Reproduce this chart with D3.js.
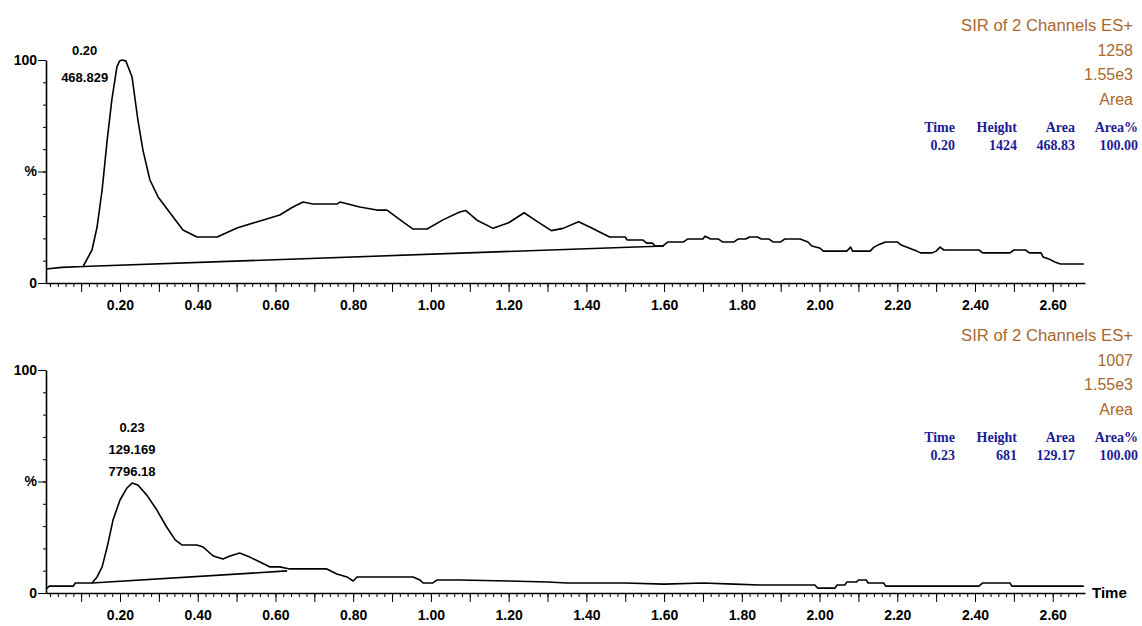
<!DOCTYPE html>
<html>
<head>
<meta charset="utf-8">
<script src="https://cdn.jsdelivr.net/npm/d3@7"></script>
<style>
  body { margin: 0; background: #fff; }
  svg { display: block; }
  .tick text { font-family: "Liberation Sans", Arial, sans-serif; font-weight: bold; }
</style>
</head>
<body>
<div id="chart"></div>
<script>
// chromatogram 1 (top) - time in min, intensity in %
const topTime = [0.01, 0.05, 0.105, 0.128, 0.141, 0.154, 0.167, 0.179, 0.192, 0.199, 0.205, 0.215, 0.231, 0.246, 0.259, 0.277, 0.298, 0.329, 0.362, 0.398, 0.45, 0.501, 0.552, 0.611, 0.645, 0.671, 0.696, 0.758, 0.766, 0.817, 0.861, 0.887, 0.928, 0.954, 0.99, 1.031, 1.074, 1.09, 1.12, 1.16, 1.20, 1.24, 1.27, 1.31, 1.34, 1.38, 1.41, 1.434, 1.46, 1.50, 1.505, 1.545, 1.555, 1.57, 1.577, 1.597, 1.61, 1.65, 1.66, 1.70, 1.705, 1.72, 1.74, 1.75, 1.78, 1.79, 1.81, 1.82, 1.84, 1.85, 1.87, 1.88, 1.90, 1.91, 1.95, 1.97, 1.98, 2.0, 2.01, 2.07, 2.08, 2.085, 2.13, 2.14, 2.15, 2.17, 2.2, 2.21, 2.23, 2.25, 2.26, 2.29, 2.30, 2.31, 2.32, 2.41, 2.42, 2.49, 2.50, 2.53, 2.54, 2.57, 2.575, 2.59, 2.605, 2.62, 2.68];
const topSignal = [6.3, 7.0, 7.4, 14.8, 25.1, 41.7, 64.1, 82.1, 96.9, 99.6, 100, 99.6, 92.4, 73.1, 59.6, 46.2, 38.6, 31.4, 23.8, 20.6, 20.6, 24.7, 27.4, 30.5, 34.1, 36.3, 35.4, 35.4, 36.3, 34.1, 32.7, 32.7, 27.4, 24.2, 24.2, 28.3, 31.8, 32.5, 28.0, 24.5, 27.0, 31.5, 28.0, 23.5, 24.5, 27.5, 25.0, 22.9, 20.6, 20.6, 19.3, 19.3, 17.9, 17.9, 16.6, 16.6, 18.4, 18.4, 19.7, 19.7, 21.0, 19.7, 19.7, 18.4, 18.4, 19.7, 19.7, 20.6, 20.6, 19.7, 19.7, 18.4, 18.4, 19.7, 19.7, 18.4, 16.6, 15.7, 14.3, 14.3, 16.1, 14.3, 14.3, 16.1, 17.0, 18.4, 18.4, 17.0, 15.7, 14.3, 13.5, 13.5, 14.3, 16.1, 14.8, 14.8, 13.5, 13.5, 14.8, 14.8, 13.5, 13.5, 11.7, 10.8, 9.4, 8.5, 8.5];
const topBaseTime = [0.105, 1.60];
const topBaseSignal = [7.4, 16.6];

// chromatogram 2 (bottom)
const botTime = [0.01, 0.018, 0.08, 0.085, 0.128, 0.141, 0.154, 0.167, 0.182, 0.20, 0.218, 0.231, 0.246, 0.269, 0.295, 0.32, 0.342, 0.36, 0.398, 0.414, 0.44, 0.465, 0.483, 0.508, 0.534, 0.56, 0.586, 0.611, 0.637, 0.732, 0.758, 0.784, 0.80, 0.81, 0.954, 0.972, 0.98, 1.005, 1.015, 1.074, 1.2, 1.3, 1.35, 1.5, 1.6, 1.7, 1.78, 1.846, 1.988, 1.995, 2.04, 2.045, 2.065, 2.07, 2.095, 2.10, 2.12, 2.125, 2.165, 2.17, 2.41, 2.42, 2.49, 2.495, 2.68];
const botSignal = [1.8, 3.1, 3.1, 4.5, 4.5, 7.2, 11.7, 20.6, 32.7, 41.7, 47.1, 49.3, 48.4, 43.9, 37.2, 29.6, 23.8, 21.5, 21.5, 20.6, 16.6, 15.2, 16.6, 17.9, 16.1, 13.9, 11.7, 11.7, 10.8, 10.8, 8.5, 7.2, 5.4, 7.2, 7.2, 5.8, 4.5, 4.5, 5.8, 5.8, 5.4, 4.9, 4.5, 4.5, 4.0, 4.5, 4.0, 3.6, 3.6, 2.2, 2.2, 3.6, 3.6, 4.9, 4.9, 5.8, 5.8, 4.5, 4.5, 3.1, 3.1, 4.5, 4.5, 3.1, 3.1];
const botBaseTime = [0.128, 0.63];
const botBaseSignal = [4.5, 9.9];

// axis ticks
const xLabelTicks = [0.2, 0.4, 0.6, 0.8, 1.0, 1.2, 1.4, 1.6, 1.8, 2.0, 2.2, 2.4, 2.6];
const yLabelTicks = [0, 50, 100];
const yLabelText = ["0", "%", "100"];

// header texts and peak tables
const headerLines = [
  ["SIR of 2 Channels ES+", "1258", "1.55e3", "Area"],
  ["SIR of 2 Channels ES+", "1007", "1.55e3", "Area"]
];
const tableHeader = ["Time", "Height", "Area", "Area%"];
const tableRows = [
  ["0.20", "1424", "468.83", "100.00"],
  ["0.23", "681", "129.17", "100.00"]
];
const peakLabels = [
  { t: 0.109, lines: ["0.20", "468.829"] },
  { t: 0.231, lines: ["0.23", "129.169", "7796.18"] }
];

const width = 1142, height = 626;
const svg = d3.select("#chart").append("svg")
  .attr("width", width)
  .attr("height", height);

const x = d3.scaleLinear().domain([0.0096, 2.683]).range([46, 1085]);

const panels = [
  { top: 60, bottom: 283, time: topTime, sig: topSignal, bt: topBaseTime, bs: topBaseSignal },
  { top: 370, bottom: 593, time: botTime, sig: botSignal, bt: botBaseTime, bs: botBaseSignal }
];

const minorX = d3.range(1, 134).map(i => i / 50);
const majorX = d3.range(1, 27).map(i => i / 10);

panels.forEach((p, k) => {
  const y = d3.scaleLinear().domain([0, 100]).range([p.bottom, p.top]);
  const g = svg.append("g");

  // x axis: minor ticks every 0.02, longer ticks every 0.1, labels every 0.2
  g.append("g")
    .attr("transform", `translate(0,${p.bottom})`)
    .call(d3.axisBottom(x).tickValues(minorX).tickSize(4).tickSizeOuter(0).tickFormat(""))
    .call(a => a.select(".domain").attr("stroke-width", 1.6));
  g.append("g")
    .attr("transform", `translate(0,${p.bottom})`)
    .call(d3.axisBottom(x).tickValues(majorX).tickSize(9).tickSizeOuter(0).tickPadding(8)
      .tickFormat(d => xLabelTicks.some(v => Math.abs(v - d) < 1e-6) ? d.toFixed(2) : ""))
    .call(a => a.select(".domain").remove())
    .call(a => a.selectAll("text").style("font-size", "14px").attr("fill", "#000"));

  // y axis
  g.append("g")
    .attr("transform", `translate(${x.range()[0]},0)`)
    .call(d3.axisLeft(y).tickValues(d3.range(0, 101, 10)).tickSize(3).tickSizeOuter(0).tickFormat(""))
    .call(a => a.select(".domain").attr("stroke-width", 1.6));
  g.append("g")
    .attr("transform", `translate(${x.range()[0]},0)`)
    .call(d3.axisLeft(y).tickValues(yLabelTicks).tickSize(8).tickSizeOuter(0).tickPadding(1)
      .tickFormat((d, i) => yLabelText[i]))
    .call(a => a.select(".domain").remove())
    .call(a => a.selectAll("text").style("font-size", "14px").attr("fill", "#000"));

  const line = d3.line().x(d => x(d[0])).y(d => y(d[1]));

  g.append("path")
    .datum(p.bt.map((t, i) => [t, p.bs[i]]))
    .attr("d", line)
    .attr("fill", "none")
    .attr("stroke", "#000")
    .attr("stroke-width", 1.6);

  g.append("path")
    .datum(p.time.map((t, i) => [t, p.sig[i]]))
    .attr("d", line)
    .attr("fill", "none")
    .attr("stroke", "#000")
    .attr("stroke-width", 1.6)
    .attr("stroke-linejoin", "round");

  // peak annotation
  const pk = peakLabels[k];
  const labelTop = k === 0 ? p.top - 5 : p.top + 62;
  g.selectAll(".peak-label")
    .data(pk.lines)
    .enter().append("text")
    .attr("class", "peak-label")
    .attr("x", x(pk.t))
    .attr("y", (d, i) => labelTop + i * (k === 0 ? 27 : 22))
    .attr("text-anchor", "middle")
    .style("font-family", "Liberation Sans, Arial, sans-serif")
    .style("font-weight", "bold")
    .style("font-size", "13px")
    .text(d => d);

  // header block at right
  const off = p.top - 60;
  g.selectAll(".head")
    .data(headerLines[k])
    .enter().append("text")
    .attr("class", "head")
    .attr("x", 1133)
    .attr("y", (d, i) => off + 31 + i * 24.5)
    .attr("text-anchor", "end")
    .attr("fill", "#a8682e")
    .style("font-family", "Liberation Sans, Arial, sans-serif")
    .style("font-size", "16px")
    .each(function(d, i) {
      if (i === 0) d3.select(this).attr("textLength", 172).attr("lengthAdjust", "spacingAndGlyphs");
    })
    .text(d => d);

  const colRight = [955, 1017, 1075, 1138];
  [tableHeader, tableRows[k]].forEach((row, r) => {
    g.selectAll(".tbl" + r)
      .data(row)
      .enter().append("text")
      .attr("class", "tbl" + r)
      .attr("x", (d, i) => colRight[i])
      .attr("y", off + 132 + r * 18)
      .attr("text-anchor", "end")
      .attr("fill", "#1c1c96")
      .style("font-family", "Liberation Serif, Times New Roman, serif")
      .style("font-weight", "bold")
      .style("font-size", "14px")
      .text(d => d);
  });
});

// "Time" axis title on lower chart
svg.append("text")
  .attr("x", 1092)
  .attr("y", panels[1].bottom + 5)
  .style("font-family", "Liberation Sans, Arial, sans-serif")
  .style("font-weight", "bold")
  .style("font-size", "15px")
  .text("Time");
</script>
</body>
</html>
